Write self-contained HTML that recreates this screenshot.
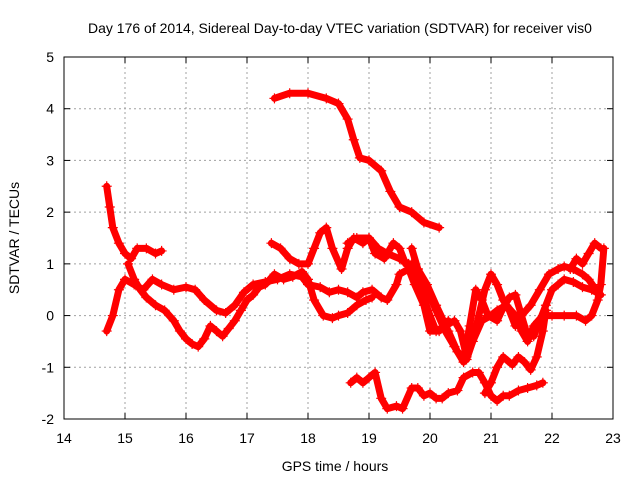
<!DOCTYPE html>
<html><head><meta charset="utf-8"><style>
html,body{margin:0;padding:0;background:#fff;}
svg{display:block;font-family:"Liberation Sans",sans-serif;}
</style></head><body>
<svg id="chart" width="640" height="480">
<text x="340" y="33" font-size="14" text-anchor="middle">Day 176 of 2014, Sidereal Day-to-day VTEC variation (SDTVAR) for receiver vis0</text>
<text x="335" y="471" font-size="14" text-anchor="middle">GPS time / hours</text>
<text transform="translate(19,238) rotate(-90)" font-size="14" text-anchor="middle">SDTVAR / TECUs</text>
<g id="grid"></g><g id="ticks"></g><g id="marks"></g>
<rect x="64" y="57" width="549" height="362" fill="none" stroke="#000" stroke-width="1"/>
</svg>
<script>
const xTicks=[14,15,16,17,18,19,20,21,22,23];
const yTicks=[-2,-1,0,1,2,3,4,5];
const track1=[[14.7,2.5],[14.75,2.1],[14.8,1.7],[14.9,1.4],[15.0,1.2],[15.1,1.1],[15.2,1.3],[15.35,1.3],[15.5,1.2],[15.6,1.25]];
const track2=[[15.05,1.0],[15.15,0.7],[15.25,0.5],[15.35,0.35],[15.5,0.2],[15.65,0.1],[15.8,-0.1],[15.9,-0.3],[16.0,-0.45],[16.1,-0.55],[16.2,-0.6],[16.3,-0.45],[16.4,-0.2],[16.5,-0.3],[16.6,-0.4],[16.7,-0.25],[16.8,-0.1],[16.9,0.1],[17.0,0.3],[17.1,0.4],[17.2,0.55],[17.3,0.6],[17.45,0.8],[17.6,0.7],[17.75,0.75],[17.9,0.85],[18.0,0.7],[18.1,0.3],[18.25,0.0],[18.4,-0.05],[18.5,0.0],[18.65,0.05],[18.8,0.2],[18.95,0.3],[19.05,0.35]];
const track3=[[14.7,-0.3],[14.8,0.0],[14.9,0.5],[15.0,0.7],[15.15,0.6],[15.3,0.5],[15.45,0.7],[15.6,0.6],[15.8,0.5],[16.0,0.55],[16.15,0.5],[16.3,0.3],[16.5,0.1],[16.65,0.05],[16.8,0.2],[16.95,0.45],[17.1,0.6],[17.3,0.65],[17.5,0.7],[17.7,0.8],[17.9,0.75],[18.0,0.6],[18.2,0.55],[18.35,0.45],[18.5,0.5],[18.65,0.45],[18.8,0.35],[18.9,0.45],[19.05,0.5],[19.2,0.35],[19.3,0.3],[19.45,0.6],[19.5,0.8],[19.65,0.9],[19.75,0.6],[19.9,0.2],[20.0,-0.3],[20.15,-0.3],[20.3,-0.1]];
const track4=[[17.4,1.4],[17.55,1.3],[17.7,1.1],[17.85,1.0],[18.0,1.0],[18.1,1.3],[18.2,1.6],[18.3,1.7],[18.4,1.3],[18.55,0.9],[18.65,1.3],[18.75,1.5],[18.9,1.4],[19.0,1.5],[19.1,1.2],[19.25,1.1],[19.4,1.4],[19.5,1.3],[19.6,1.0],[19.7,1.0],[19.85,0.5],[20.0,0.0],[20.1,-0.3],[20.25,-0.2],[20.4,-0.1],[20.5,-0.3],[20.6,-0.8],[20.7,-0.5],[20.8,0.0],[20.9,0.5],[21.0,0.8],[21.1,0.6],[21.2,0.3],[21.3,0.1],[21.4,-0.2],[21.5,0.0],[21.65,0.2],[21.8,0.5],[21.95,0.8],[22.1,0.9],[22.2,0.95],[22.35,0.9],[22.5,0.8],[22.6,0.7],[22.75,0.45]];
const track5=[[18.65,1.4],[18.8,1.5],[19.0,1.5],[19.15,1.3],[19.3,1.2],[19.5,1.1],[19.65,1.0],[19.8,0.9],[19.95,0.5],[20.1,0.1],[20.25,-0.3],[20.4,-0.6],[20.55,-0.9],[20.65,-0.2],[20.75,0.5],[20.85,0.3],[20.95,0.0],[21.1,-0.1],[21.2,0.15],[21.3,0.35],[21.4,0.4],[21.5,0.0],[21.6,-0.4],[21.7,-0.4],[21.8,-0.1],[21.9,0.2],[22.0,0.5],[22.1,0.6],[22.2,0.7],[22.35,0.65],[22.5,0.55],[22.65,0.5],[22.8,0.4]];
const track6=[[19.7,1.3],[19.8,0.9],[19.95,0.6],[20.1,0.2],[20.3,-0.3],[20.45,-0.7],[20.6,-0.85],[20.7,-0.5],[20.85,-0.1],[21.0,0.0],[21.1,0.1],[21.25,0.2],[21.4,0.0],[21.5,-0.3],[21.6,-0.5],[21.7,-0.2],[21.85,0.0],[22.0,0.0],[22.2,0.0],[22.4,0.0],[22.55,-0.1],[22.65,0.0],[22.75,0.3],[22.8,0.6],[22.85,1.3]];
const track7=[[18.7,-1.3],[18.8,-1.2],[18.9,-1.3],[19.0,-1.2],[19.1,-1.1],[19.2,-1.6],[19.3,-1.8],[19.45,-1.75],[19.55,-1.8],[19.7,-1.4],[19.8,-1.4],[19.9,-1.55],[20.0,-1.5],[20.1,-1.6],[20.2,-1.6],[20.3,-1.5],[20.45,-1.45],[20.55,-1.2],[20.7,-1.1],[20.8,-1.1],[20.9,-1.3],[21.0,-1.55],[21.1,-1.65],[21.2,-1.55],[21.3,-1.55],[21.45,-1.45],[21.6,-1.4],[21.75,-1.35],[21.85,-1.3]];
const track8=[[20.9,-1.5],[21.0,-1.3],[21.1,-1.0],[21.2,-0.8],[21.35,-0.95],[21.45,-0.8],[21.55,-0.9],[21.65,-1.05],[21.75,-0.8],[21.85,-0.3],[21.9,0.1]];
const track9=[[22.3,0.9],[22.4,1.1],[22.5,1.0],[22.6,1.2],[22.7,1.4],[22.8,1.3]];
const trackTop=[[17.45,4.2],[17.7,4.3],[18.0,4.3],[18.3,4.2],[18.5,4.1],[18.65,3.8],[18.75,3.4],[18.85,3.05],[19.0,3.0],[19.2,2.8],[19.35,2.4],[19.5,2.1],[19.7,2.0],[19.9,1.8],[20.15,1.7]];
const tracks=[track1,track2,track3,track4,track5,track6,track7,track8,track9,trackTop];

const X0=64,X1=613,Y0=419,Y1=57;
function xs(t){return X0+(t-14)/(23-14)*(X1-X0);}
function ys(v){return Y0-(v-(-2))/(5-(-2))*(Y0-Y1);}
const NS='http://www.w3.org/2000/svg';
const grid=document.getElementById('grid'),ticks=document.getElementById('ticks'),marks=document.getElementById('marks');
function mk(tag,attrs,parent){const e=document.createElementNS(NS,tag);for(const k in attrs)e.setAttribute(k,attrs[k]);parent.appendChild(e);return e;}
xTicks.forEach(t=>{
  const x=xs(t);
  if(t>14&&t<23){const g=mk('line',{x1:x,x2:x,y1:Y1,y2:Y0,stroke:'#a0a0a0','stroke-dasharray':'2,3'},grid);
  
  }
  mk('line',{x1:x,x2:x,y1:Y0,y2:Y0-6,stroke:'#000'},ticks);
  mk('line',{x1:x,x2:x,y1:Y1,y2:Y1+6,stroke:'#000'},ticks);
  const l=mk('text',{x:x,y:443,'font-size':14,'text-anchor':'middle'},ticks);l.textContent=t;
  
  
});
yTicks.forEach(v=>{
  const y=ys(v);
  if(v>-2&&v<5){const g=mk('line',{x1:X0,x2:X1,y1:y,y2:y,stroke:'#a0a0a0','stroke-dasharray':'2,3'},grid);
  
  }
  mk('line',{x1:X0,x2:X0+6,y1:y,y2:y,stroke:'#000'},ticks);
  mk('line',{x1:X1,x2:X1-6,y1:y,y2:y,stroke:'#000'},ticks);
  const l=mk('text',{x:54,y:y+5,'font-size':14,'text-anchor':'end'},ticks);l.textContent=v;
  
  
});
tracks.forEach((tr,i)=>{
  const g=mk('g',{},marks);
  
  
  mk('polyline',{points:tr.map(p=>xs(p[0])+','+ys(p[1])).join(' '),fill:'none',stroke:'#f00','stroke-width':7,'stroke-linejoin':'round','stroke-linecap':'round'},g);
  let d='';
  tr.forEach(p=>{const x=xs(p[0]),y=ys(p[1]);d+=`M${x-5},${y}h10M${x},${y-5}v10`;});
  mk('path',{d:d,stroke:'#f00','stroke-width':1.2,fill:'none'},g);
});
</script>
</body></html>
